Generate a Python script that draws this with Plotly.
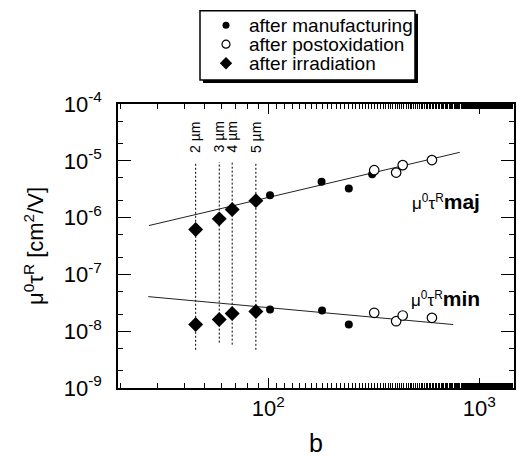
import math
import plotly.graph_objects as go

# ---- data ----
irr_b = [45.3, 58.6, 67.5, 87.4]
irr_maj = [6.15e-7, 9.5e-7, 1.39e-6, 1.99e-6]
irr_min = [1.31e-8, 1.61e-8, 2.05e-8, 2.23e-8]

man_maj_b = [102, 179, 241, 311]
man_maj = [2.47e-6, 4.26e-6, 3.24e-6, 5.8e-6]
man_min_b = [102, 180, 241]
man_min = [2.42e-8, 2.32e-8, 1.31e-8]

post_b = [318, 404, 434, 597]
post_maj = [6.84e-6, 6.2e-6, 8.4e-6, 1.03e-5]
post_min = [2.11e-8, 1.5e-8, 1.89e-8, 1.72e-8]

fit_maj_b = [27.2, 809]
fit_maj = [7.24e-7, 1.41e-5]
fit_min_b = [27.0, 753]
fit_min = [4.06e-8, 1.31e-8]

thick_labels = ["2 µm", "3 µm", "4 µm", "5 µm"]
vline_top = [9.5e-6, 9.5e-6, 9.5e-6, 9.5e-6]
vline_bottom = [4.7e-9, 6.3e-9, 5.8e-9, 4.7e-9]
label_y = 2.6e-5

y_tickvals = [1e-9, 1e-8, 1e-7, 1e-6, 1e-5, 1e-4]
y_ticktext = ["10<sup>-9</sup>", "10<sup>-8</sup>", "10<sup>-7</sup>",
              "10<sup>-6</sup>", "10<sup>-5</sup>", "10<sup>-4</sup>"]
x_tickvals = [100, 1000]
x_ticktext = ["10<sup>2</sup>", "10<sup>3</sup>"]

legend_names = ["after manufacturing", "after postoxidation", "after irradiation"]
# legend box local coordinates (box is 215 x 69 units)
legend_rows = [14.5, 33.5, 52.5]

FONT = "Liberation Sans, Arial, Helvetica, sans-serif"

fig = go.Figure()

# dashed vertical lines at irradiated thicknesses
for b, t, bt in zip(irr_b, vline_top, vline_bottom):
    fig.add_trace(go.Scatter(x=[b, b], y=[bt, t], mode="lines",
                             line=dict(color="black", width=1, dash="2px,2px"),
                             showlegend=False, hoverinfo="skip"))

# fit lines
fig.add_trace(go.Scatter(x=fit_maj_b, y=fit_maj, mode="lines",
                         line=dict(color="#222", width=1), showlegend=False))
fig.add_trace(go.Scatter(x=fit_min_b, y=fit_min, mode="lines",
                         line=dict(color="#222", width=1), showlegend=False))

dot_marker = dict(symbol="circle", size=8, color="black")
open_marker = dict(symbol="circle", size=9.5, color="white",
                   line=dict(color="black", width=1.2))
dia_marker = dict(symbol="diamond", size=11.5, color="black")

for xb, yv in [(man_maj_b, man_maj), (man_min_b, man_min)]:
    fig.add_trace(go.Scatter(x=xb, y=yv, mode="markers", marker=dot_marker,
                             showlegend=False))
for yv in [post_maj, post_min]:
    fig.add_trace(go.Scatter(x=post_b, y=yv, mode="markers", marker=open_marker,
                             showlegend=False))
for yv in [irr_maj, irr_min]:
    fig.add_trace(go.Scatter(x=irr_b, y=yv, mode="markers", marker=dia_marker,
                             showlegend=False))

# ---- hand-made legend on an overlay axis ----
leg_markers = [dict(symbol="circle", size=7, color="black"),
               dict(symbol="circle", size=8, color="white",
                    line=dict(color="black", width=1.2)),
               dict(symbol="diamond", size=9.5, color="black")]
for ry, mk in zip(legend_rows, leg_markers):
    fig.add_trace(go.Scatter(x=[26], y=[ry], mode="markers", marker=mk,
                             xaxis="x2", yaxis="y2", showlegend=False,
                             hoverinfo="skip"))
for ry, name in zip(legend_rows, legend_names):
    fig.add_annotation(x=47, y=ry, xref="x2", yref="y2", text=name,
                       showarrow=False, xanchor="left", yanchor="middle",
                       font=dict(family=FONT, size=19, color="black"))

# paper geometry: margin t=4, b=69 -> paper height 384, plot top at 104 px
PH = 384.0
def py(px):
    return 1 - (px - 4) / PH
def pxx(px):
    return (px - 118) / 396.0

main_top = py(104)
box = dict(x0=200, x1=415, y0=10.7, y1=80)
# shadow
fig.add_shape(type="rect", xref="paper", yref="paper",
              x0=pxx(box["x0"] + 3), x1=pxx(box["x1"] + 3),
              y0=py(box["y1"] + 3), y1=py(box["y0"] + 3),
              fillcolor="black", line=dict(width=0), layer="below")
fig.add_shape(type="rect", xref="paper", yref="paper",
              x0=pxx(box["x0"]), x1=pxx(box["x1"]),
              y0=py(box["y1"]), y1=py(box["y0"]),
              fillcolor="white", line=dict(color="black", width=1.5), layer="below")

for b, lab in zip(irr_b, thick_labels):
    fig.add_annotation(x=math.log10(b), y=math.log10(label_y), xref="x", yref="y",
                       text=lab, textangle=-90, showarrow=False,
                       font=dict(family=FONT, size=14, color="black"))

fig.add_annotation(x=1.0, y=math.log10(1.95e-6), xref="paper", yref="y",
                   text="<span style='font-size:17px'>μ<sup>0</sup>τ<sup>R</sup></span><b>maj</b>",
                   showarrow=False, xanchor="right", xshift=-32,
                   font=dict(family=FONT, size=21, color="black"))
fig.add_annotation(x=1.0, y=math.log10(3.75e-8), xref="paper", yref="y",
                   text="<span style='font-size:17px'>μ<sup>0</sup>τ<sup>R</sup></span><b>min</b>",
                   showarrow=False, xanchor="right", xshift=-32,
                   font=dict(family=FONT, size=21, color="black"))

# x-axis title placed as annotation for exact position
fig.add_annotation(x=0.5, y=py(443), xref="paper", yref="paper", text="b",
                   showarrow=False, xanchor="center", yanchor="middle",
                   font=dict(family=FONT, size=25, color="black"))

axis_common = dict(type="log", showgrid=False, zeroline=False, showline=True,
                   linecolor="black", linewidth=1.5, mirror="allticks",
                   ticks="inside", tickcolor="black", automargin=False,
                   tickfont=dict(family=FONT, size=22, color="black"),
                   minor=dict(ticks="inside", ticklen=5, tickcolor="black",
                              tickwidth=1, showgrid=False))

fig.update_layout(
    xaxis=dict(**axis_common, range=[1.288, 3.165], tickmode="array",
               tickvals=x_tickvals, ticktext=x_ticktext, ticklen=10, tickwidth=1,
               anchor="y"),
    yaxis=dict(**axis_common, range=[-9, -4], tickmode="array", domain=[0, main_top],
               tickvals=y_tickvals, ticktext=y_ticktext, ticklen=13, tickwidth=1,
               ticklabelstandoff=10, anchor="x",
               title=dict(text="μ<sup>0</sup>τ<sup>R</sup> [cm<sup>2</sup>/V]",
                          font=dict(family=FONT, size=22, color="black"),
                          standoff=14)),
    xaxis2=dict(domain=[pxx(box["x0"]), pxx(box["x1"])], range=[0, 215],
                visible=False, anchor="y2", fixedrange=True, automargin=False),
    yaxis2=dict(domain=[py(box["y1"]), py(box["y0"])], range=[69.3, 0],
                visible=False, anchor="x2", fixedrange=True, automargin=False),
    width=517, height=457,
    margin=dict(l=118, r=3, t=4, b=69),
    paper_bgcolor="white", plot_bgcolor="rgba(0,0,0,0)",
    showlegend=False,
)

fig.write_html("out.html")
